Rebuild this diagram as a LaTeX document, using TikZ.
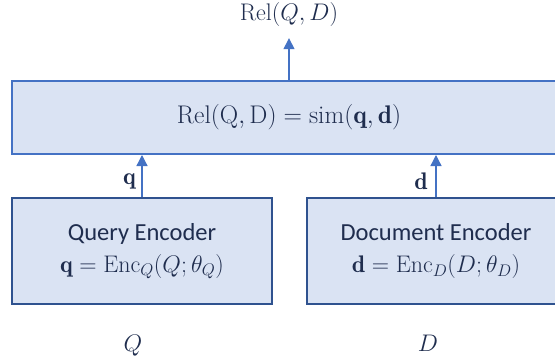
\documentclass[tikz,border=0pt]{standalone}
\usepackage{fix-cm}
\usepackage{amsmath}
\usepackage{fontspec}
\newfontfamily\calibri{Carlito}
\usetikzlibrary{arrows.meta}
\definecolor{boxfill}{HTML}{DAE3F3}
\definecolor{topline}{HTML}{4472C4}
\definecolor{botline}{HTML}{2F528F}
\definecolor{arrowc}{HTML}{4472C4}
\definecolor{ink}{HTML}{1F2D4E}
\tikzset{
  relbox/.style={draw=topline, line width=2pt, fill=boxfill, inner sep=0pt},
  encbox/.style={draw=botline, line width=2.4pt, fill=boxfill, inner sep=0pt,
    align=center, text=ink, font=\fontsize{24}{32}\selectfont},
  arr/.style={draw=arrowc, line width=1.3pt, -{Triangle[length=11pt,width=11pt]}},
  mathlbl/.style={text=ink, font=\fontsize{24}{28}\selectfont, inner sep=0pt},
}
\begin{document}
\begin{tikzpicture}[x=1pt,y=-1pt]
\useasboundingbox (0,0) rectangle (555,362);
\begin{scope}
\clip (0,0) rectangle (555,362);
\node[relbox, minimum width=554pt, minimum height=73pt, mathlbl, font=\fontsize{25.5}{30}\selectfont] (rel) at (289,117.5)
  {$\mathrm{Rel}(\mathrm{Q},\mathrm{D}) = \mathrm{sim}(\mathbf{q},\mathbf{d})$};
\node[encbox, minimum width=260pt, minimum height=106pt] (qenc) at (142,251)
  {{\calibri\fontsize{24.5}{32}\selectfont Query Encoder}\\ $\mathbf{q} = \mathrm{Enc}_Q(Q;\theta_Q)$};
\node[encbox, minimum width=258pt, minimum height=106pt] (denc) at (436,251)
  {{\calibri\fontsize{24.5}{32}\selectfont Document Encoder}\\ $\mathbf{d} = \mathrm{Enc}_D(D;\theta_D)$};
\end{scope}
\node[mathlbl] (out) at (289,14) {$\mathrm{Rel}(Q,D)$};
\node[mathlbl] (qlbl) at (129.5,181) {$\mathbf{q}$};
\node[mathlbl] (dlbl) at (421,181) {$\mathbf{d}$};
\node[mathlbl] (qin) at (133,346) {$Q$};
\node[mathlbl] (din) at (428,343) {$D$};
\draw[arr] (rel.north) -- ([yshift=-12pt]out.south);
\draw[arr] (qenc.north) -- (qenc.north |- rel.south);
\draw[arr] (denc.north) -- (denc.north |- rel.south);
\end{tikzpicture}
\end{document}
